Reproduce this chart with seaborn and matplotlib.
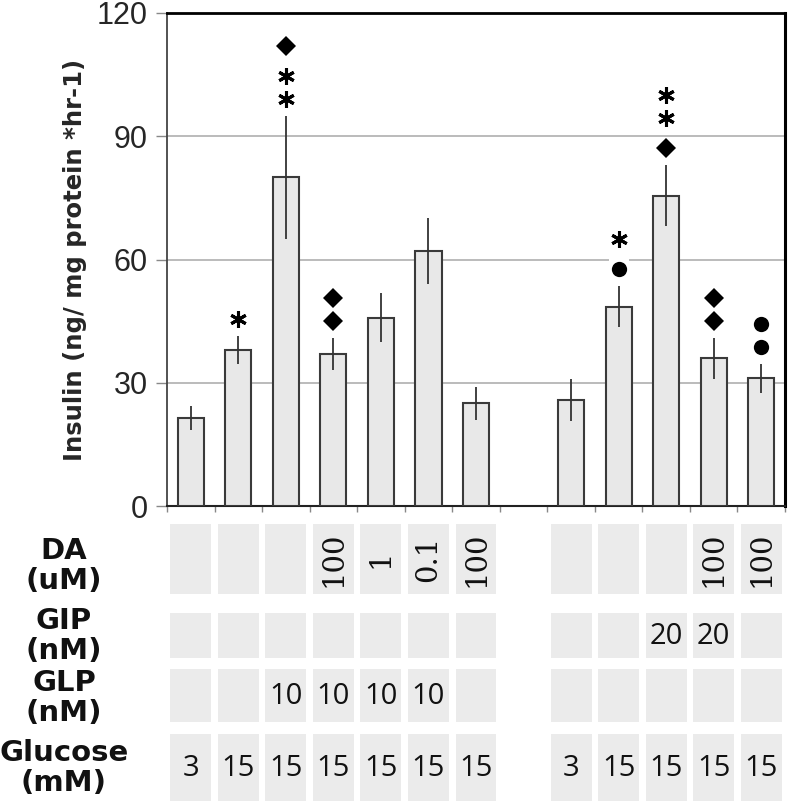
import matplotlib
matplotlib.use("Agg")
import matplotlib.pyplot as plt
from matplotlib.patches import Rectangle
from matplotlib.transforms import offset_copy
import numpy as np
import pandas as pd
import seaborn as sns

# insulin secretion per condition (slot 8 is the empty gap)
slots = list(range(13))
insulin = [21.4, 38.0, 80.0, 37.0, 45.8, 62.0, 25.0, np.nan, 25.8, 48.5, 75.5, 36.0, 31.1]
sem = [3.0, 3.4, 15.0, 4.0, 6.0, 8.0, 4.0, np.nan, 5.0, 5.0, 7.4, 5.0, 3.5]

# significance marks, listed from bottom to top (star / diamond / dot)
marks = [[], ["star"], ["star", "star", "diamond"], ["diamond", "diamond"], [], [], [], [], [],
         ["dot", "star"], ["diamond", "star", "star"], ["diamond", "diamond"], ["dot", "dot"]]

# treatment table under the bars
row_names = ["DA\n(uM)", "GIP\n(nM)", "GLP\n(nM)", "Glucose\n(mM)"]
da = ["", "", "", "100", "1", "0.1", "100", None, "", "", "", "100", "100"]
gip = ["", "", "", "", "", "", "", None, "", "", "20", "20", ""]
glp = ["", "", "10", "10", "10", "10", "", None, "", "", "", "", ""]
glucose = ["3", "15", "15", "15", "15", "15", "15", None, "3", "15", "15", "15", "15"]

yticks = [0, 30, 60, 90, 120]

sns.set_style("white")
plt.rcParams['font.family'] = ['DejaVu Sans']

fig = plt.figure(figsize=(7.88, 8.08), dpi=100)
W, H = 788, 808
ax = fig.add_axes([167 / W, (H - 506) / H, (785 - 167) / W, 493 / H])

df = pd.DataFrame({"slot": slots, "insulin": insulin})
sns.barplot(data=df, x="slot", y="insulin", order=slots, color="#e8e8e8", saturation=1,
            width=0.55, edgecolor="#3a3a3a", linewidth=1.5, errorbar=None, ax=ax, zorder=3)
ax.errorbar(slots, insulin, yerr=sem, fmt="none", ecolor="#333333", elinewidth=1.3,
            capsize=0, zorder=4)

# marks above error bars
styles = {"star": dict(marker=(6, 2, 0), markersize=12, mew=2.2, color="black"),
          "diamond": dict(marker="D", markersize=10.5, color="black", mew=0),
          "dot": dict(marker="o", markersize=11, color="black", mew=0)}
for i, m in enumerate(marks):
    if not m:
        continue
    top = insulin[i] + sem[i]
    dy = 17
    for k, s in enumerate(m):
        if k > 0:
            dy += 23 if s == m[k - 1] else 30
        tr = offset_copy(ax.transData, fig=fig, x=0, y=dy, units="dots")
        ax.plot(i, top, marker="s", markersize=15, color="white", mew=0, transform=tr, zorder=5)
        ax.plot(i, top, transform=tr, zorder=6, **styles[s])

ax.set_xlim(-0.5, 12.5)
ax.set_ylim(0, 120)
ax.set_yticks(yticks)
ax.set_yticklabels([str(t) for t in yticks], fontsize=22,
                   family=['Liberation Sans Narrow', 'Liberation Sans'])
ax.set_xticks(np.arange(-0.5, 13, 1))
ax.set_xticklabels([])
ax.set_xlabel("")
ax.set_ylabel("Insulin (ng/ mg protein *hr-1)", fontsize=17.5, fontweight="bold",
              labelpad=7)
ax.tick_params(axis="y", length=8, width=1, color="#888888", pad=6, left=True)
ax.tick_params(axis="x", length=4, width=1, color="#888888", bottom=True)
for y in [30, 60, 90]:
    ax.axhline(y, color="#a8a8a8", lw=1.1, zorder=1)
for side in ["top", "right", "bottom", "left"]:
    ax.spines[side].set_visible(True)
ax.spines["top"].set_color("black")
ax.spines["top"].set_linewidth(2)
ax.spines["right"].set_color("black")
ax.spines["right"].set_linewidth(2.2)
ax.spines["bottom"].set_color("#222222")
ax.spines["bottom"].set_linewidth(1.5)
ax.spines["left"].set_color("#444444")
ax.spines["left"].set_linewidth(1.3)

# table axes in pixel rows
tax = fig.add_axes([167 / W, 0, (785 - 167) / W, 1])
tax.set_xlim(-0.5, 12.5)
tax.set_ylim(H, 0)
tax.axis("off")

rows = [(da, 524, 594), (gip, 613, 658), (glp, 669, 722), (glucose, 734, 801)]
label_y = [566, 636, 698, 768]
for r, (vals, y0, y1) in enumerate(rows):
    for i, v in enumerate(vals):
        if v is None:
            continue
        tax.add_patch(Rectangle((i - 0.43, y0), 0.86, y1 - y0, fc="#ebebeb", ec="none"))
        if v:
            if r == 0:
                tax.text(i, (y0 + y1) / 2, v, rotation=90, ha="center", va="center",
                         fontsize=21, family=['DejaVu Serif'], color="#111111")
            else:
                tax.text(i, (y0 + y1) / 2 + 1, v, ha="center", va="center",
                         fontsize=21, family=['Open Sans', 'DejaVu Sans'], color="#111111")
    fig.text(64 / W, 1 - label_y[r] / H, row_names[r], ha="center", va="center",
             fontsize=21, fontweight="bold", linespacing=1.1, color="#111111")

fig.savefig("out.png", dpi=100)
